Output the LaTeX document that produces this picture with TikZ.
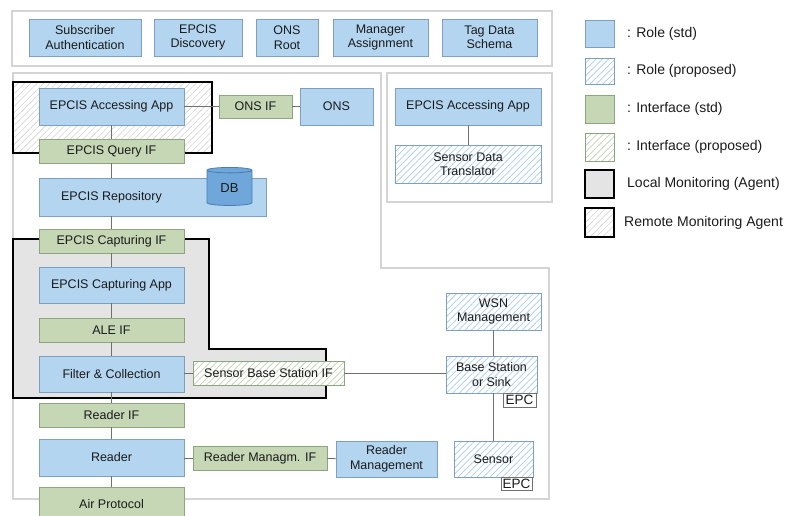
\documentclass[tikz,border=0pt]{standalone}
\usepackage{fontspec}
\setmainfont{Liberation Sans}
\usetikzlibrary{shapes.geometric,patterns.meta}
\definecolor{roleF}{HTML}{B3D5F0}
\definecolor{roleB}{HTML}{7E9FBF}
\definecolor{ifF}{HTML}{C6D7B6}
\definecolor{ifB}{HTML}{8DA57E}
\definecolor{hatchB}{HTML}{A9CDEB}
\definecolor{hatchG}{HTML}{C2D4B0}
\definecolor{hatchK}{HTML}{D4D4D4}
\definecolor{contC}{HTML}{D4D4D4}
\definecolor{locF}{HTML}{E4E4E4}
\definecolor{connC}{HTML}{707070}
\definecolor{txt}{HTML}{1A1A1A}
\definecolor{dbF}{HTML}{6FA7DA}
\definecolor{dbB}{HTML}{4A7DAE}
\newcommand\mkbox[7]{%
  \pgfmathsetmacro\bxw{#5-#3}\pgfmathsetmacro\bxh{#6-#4}%
  \pgfmathsetmacro\bxx{(#3+#5)/2}\pgfmathsetmacro\bxy{(#4+#6)/2}%
  \node[#1, minimum width=\bxw pt, minimum height=\bxh pt] (#2) at (\bxx,\bxy) {#7};}
\tikzset{
  base/.style={inner sep=0pt, align=center, font=\fontsize{12.5}{14.5}\selectfont, text=txt, line width=0.8pt},
  role/.style={base, draw=roleB, fill=roleF},
  iface/.style={base, draw=ifB, fill=ifF},
  rolep/.style={base, draw=roleB, preaction={fill=white}, pattern={Lines[angle=45,distance=4.5pt,line width=0.7pt]}, pattern color=hatchB},
  ifacep/.style={base, draw=ifB, preaction={fill=white}, pattern={Lines[angle=45,distance=4.5pt,line width=0.7pt]}, pattern color=hatchG},
  epcbox/.style={base, draw=connC, fill=white, font=\fontsize{13.5}{14}\selectfont},
  container/.style={draw=contC, line width=1.2pt},
  localmon/.style={draw=black, fill=locF, line width=1.5pt},
  remotemon/.style={draw=black, line width=1.5pt, preaction={fill=white}, pattern={Lines[angle=45,distance=4.5pt,line width=0.6pt]}, pattern color=hatchK},
  wire/.style={draw=connC, line width=0.8pt},
  legtext/.style={anchor=west, inner sep=0pt, font=\fontsize{14}{16}\selectfont, text=txt},
  plainlabel/.style={inner sep=0pt, font=\fontsize{12.5}{14.5}\selectfont, text=txt}
}
\begin{document}
\begin{tikzpicture}[x=1pt,y=-1pt]
\useasboundingbox (0,0) rectangle (787,515);
% containers
\draw[container] (12,11) rectangle (552,66);
\draw[container] (13,73) -- (381,73) -- (381,268) -- (549,268) -- (549,499) -- (13,499) -- cycle;
\draw[container] (387,73) rectangle (552,202);
% monitoring agents
\draw[remotemon] (13,82) rectangle (212,153);
\draw[localmon] (13,239) -- (209,239) -- (209,349) -- (326,349) -- (326,398) -- (13,398) -- cycle;
% top row
\mkbox{role}{sa}{29}{19}{141}{56}{Subscriber\\Authentication}
\mkbox{role}{ed}{154}{19}{242}{56}{EPCIS\\Discovery}
\mkbox{role}{onsr}{256}{19}{318}{56}{ONS\\Root}
\mkbox{role}{ma}{333}{19}{428}{56}{Manager\\Assignment}
\mkbox{role}{tds}{442}{19}{537}{56}{Tag Data\\Schema}
% left column
\mkbox{role}{app}{39}{88}{184}{125}{EPCIS Accessing App}
\mkbox{iface}{onsif}{219}{95}{292}{118}{ONS IF}
\mkbox{role}{ons}{300}{88}{373}{125}{ONS}
\mkbox{iface}{qif}{39}{139}{184}{163}{EPCIS Query IF}
\mkbox{role}{repo}{39}{178}{266}{216}{}
\node[plainlabel] (repolabel) at (111.5,197) {EPCIS Repository};
\node[cylinder, shape border rotate=90, aspect=0.3, draw=dbB, fill=dbF, line width=0.8pt,
      minimum width=45pt, minimum height=38pt, inner sep=0pt, text=txt,
      font=\fontsize{13}{14}\selectfont] (db) at (229.5,188) {DB};
\mkbox{iface}{capif}{39}{229}{184}{253}{EPCIS Capturing IF}
\mkbox{role}{capapp}{39}{267}{184}{303}{EPCIS Capturing App}
\mkbox{iface}{aleif}{39}{318}{184}{342}{ALE IF}
\mkbox{role}{filt}{39}{356}{184}{392}{Filter \& Collection}
\mkbox{ifacep}{sbsif}{193}{361}{344}{385}{Sensor Base Station IF}
\mkbox{iface}{rif}{39}{403}{184}{427}{Reader IF}
\mkbox{role}{reader}{39}{439}{184}{476}{Reader}
\mkbox{iface}{rmif}{193}{446}{327}{470}{Reader Managm. IF}
\mkbox{role}{rm}{336}{441}{437}{477}{Reader\\Management}
\mkbox{iface}{air}{39}{487}{184}{521}{Air Protocol}
% right part
\mkbox{role}{app2}{395}{88}{541}{125}{EPCIS Accessing App}
\mkbox{rolep}{sdt}{395}{145}{541}{183}{Sensor Data\\Translator}
\mkbox{rolep}{wsn}{446}{293}{541}{330}{WSN\\Management}
\mkbox{rolep}{bs}{446}{356}{537}{393}{Base Station\\or Sink}
\mkbox{epcbox}{epc1}{503}{393}{536}{407}{EPC}
\mkbox{rolep}{sensor}{454}{441}{533}{477}{Sensor}
\mkbox{epcbox}{epc2}{501}{477}{532}{490}{EPC}
% connectors
\draw[wire] (app) -- (onsif);
\draw[wire] (onsif) -- (ons);
\draw[wire] (app) -- (qif);
\draw[wire] (qif.south) -- (qif.south |- repo.north);
\draw[wire] (capif.north |- repo.south) -- (capif.north);
\draw[wire] (capif) -- (capapp);
\draw[wire] (capapp) -- (aleif);
\draw[wire] (aleif) -- (filt);
\draw[wire] (filt) -- (rif);
\draw[wire] (rif) -- (reader);
\draw[wire] (reader) -- (air);
\draw[wire] (filt.east |- sbsif.west) -- (sbsif.west);
\draw[wire] (sbsif.east) -- (sbsif.east -| bs.west);
\draw[wire] (reader.east |- rmif.west) -- (rmif.west);
\draw[wire] (rmif) -- (rm);
\draw[wire] (app2) -- (sdt);
\draw[wire] (wsn.south) -- (wsn.south |- bs.north);
\draw[wire] (wsn.south |- bs.south) -- (wsn.south |- sensor.north);
% legend
\mkbox{role}{lg1}{585}{20}{614}{47}{}
\node[legtext] (lt1) at (627,33.5) {: Role (std)};
\mkbox{rolep}{lg2}{585}{58}{614}{84}{}
\node[legtext] (lt2) at (627,71) {: Role (proposed)};
\mkbox{iface}{lg3}{585}{95}{614}{123}{}
\node[legtext] (lt3) at (627,109) {: Interface (std)};
\mkbox{ifacep}{lg4}{585}{133}{614}{161}{}
\node[legtext] (lt4) at (627,147) {: Interface (proposed)};
\node[localmon, minimum width=29pt, minimum height=28pt, inner sep=0pt] (lg5) at (599.5,184) {};
\node[legtext] (lt5) at (627,184) {Local Monitoring (Agent)};
\node[remotemon, minimum width=29pt, minimum height=29pt, inner sep=0pt] (lg6) at (599.5,222.5) {};
\node[legtext] (lt6) at (624,222.5) {Remote Monitoring Agent};
\end{tikzpicture}
\end{document}
